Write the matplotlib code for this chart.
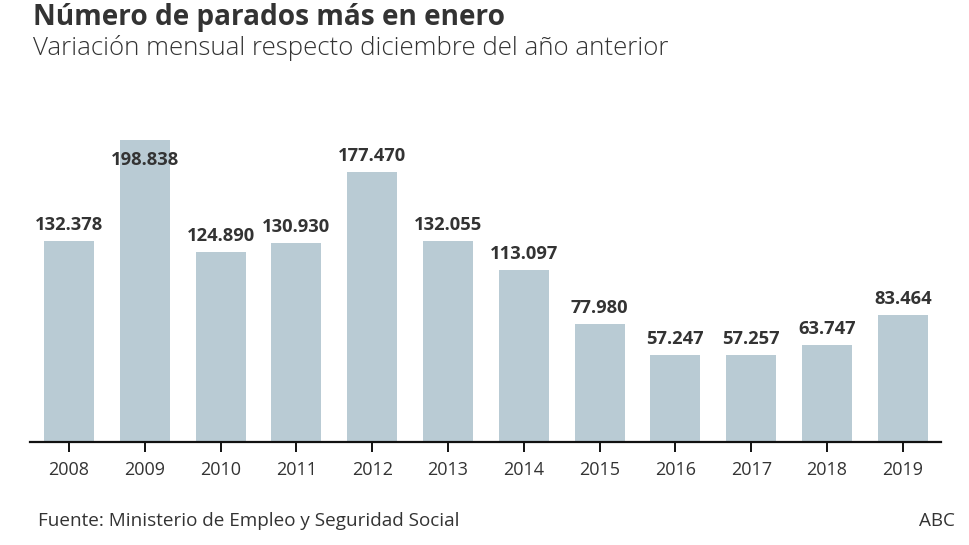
import matplotlib.pyplot as plt

years = ['2008', '2009', '2010', '2011', '2012', '2013',
         '2014', '2015', '2016', '2017', '2018', '2019']
parados = [132378, 198838, 124890, 130930, 177470, 132055,
           113097, 77980, 57247, 57257, 63747, 83464]
labels = ['132.378', '198.838', '124.890', '130.930', '177.470', '132.055',
          '113.097', '77.980', '57.247', '57.257', '63.747', '83.464']

plt.rcParams['font.family'] = ['Open Sans', 'DejaVu Sans']
bar_color = '#b9cbd4'
text_color = '#333333'

fig = plt.figure(figsize=(9.69, 5.45), dpi=100)
ax = fig.add_axes([30 / 969, (545 - 442) / 545, 911 / 969, 352 / 545])

x = list(range(len(years)))
ax.bar(x, parados, width=0.66, color=bar_color, zorder=2)

ymax = 231750
ax.set_ylim(0, ymax)
ax.set_xlim(-0.515, 11.504)

for xi, v, lab in zip(x, parados, labels):
    if v > 0.82 * ymax:
        # no room above the bar: label goes inside, at the top
        ax.annotate(lab, (xi, v), xytext=(0, -14.5), textcoords='offset points',
                    ha='center', va='center', fontsize=13.2, fontweight='bold',
                    color=text_color)
    else:
        ax.annotate(lab, (xi, v), xytext=(0, 11.5), textcoords='offset points',
                    ha='center', va='center', fontsize=13.2, fontweight='bold',
                    color=text_color)

for s in ['top', 'right', 'left']:
    ax.spines[s].set_visible(False)
ax.spines['bottom'].set_linewidth(1.6)
ax.spines['bottom'].set_color('#111111')
ax.set_yticks([])
ax.set_xticks(x)
ax.set_xticklabels(years)
ax.tick_params(axis='x', length=7, width=1.4, color='#111111',
               labelsize=13, labelcolor=text_color, pad=6.5)

fig.text(33 / 969, 1 - 17 / 545, 'Número de parados más en enero',
         fontsize=20.2, fontweight='bold', color=text_color, va='center')
fig.text(33 / 969, 1 - 48 / 545, 'Variación mensual respecto diciembre del año anterior',
         fontsize=18.6, fontweight='light', color=text_color, va='center')
fig.text(38 / 969, 1 - 521 / 545, 'Fuente: Ministerio de Empleo y Seguridad Social',
         fontsize=13.6, color=text_color, va='center')
fig.text(955 / 969, 1 - 521 / 545, 'ABC',
         fontsize=13.6, color=text_color, va='center', ha='right')

fig.savefig('out.png', dpi=100)
